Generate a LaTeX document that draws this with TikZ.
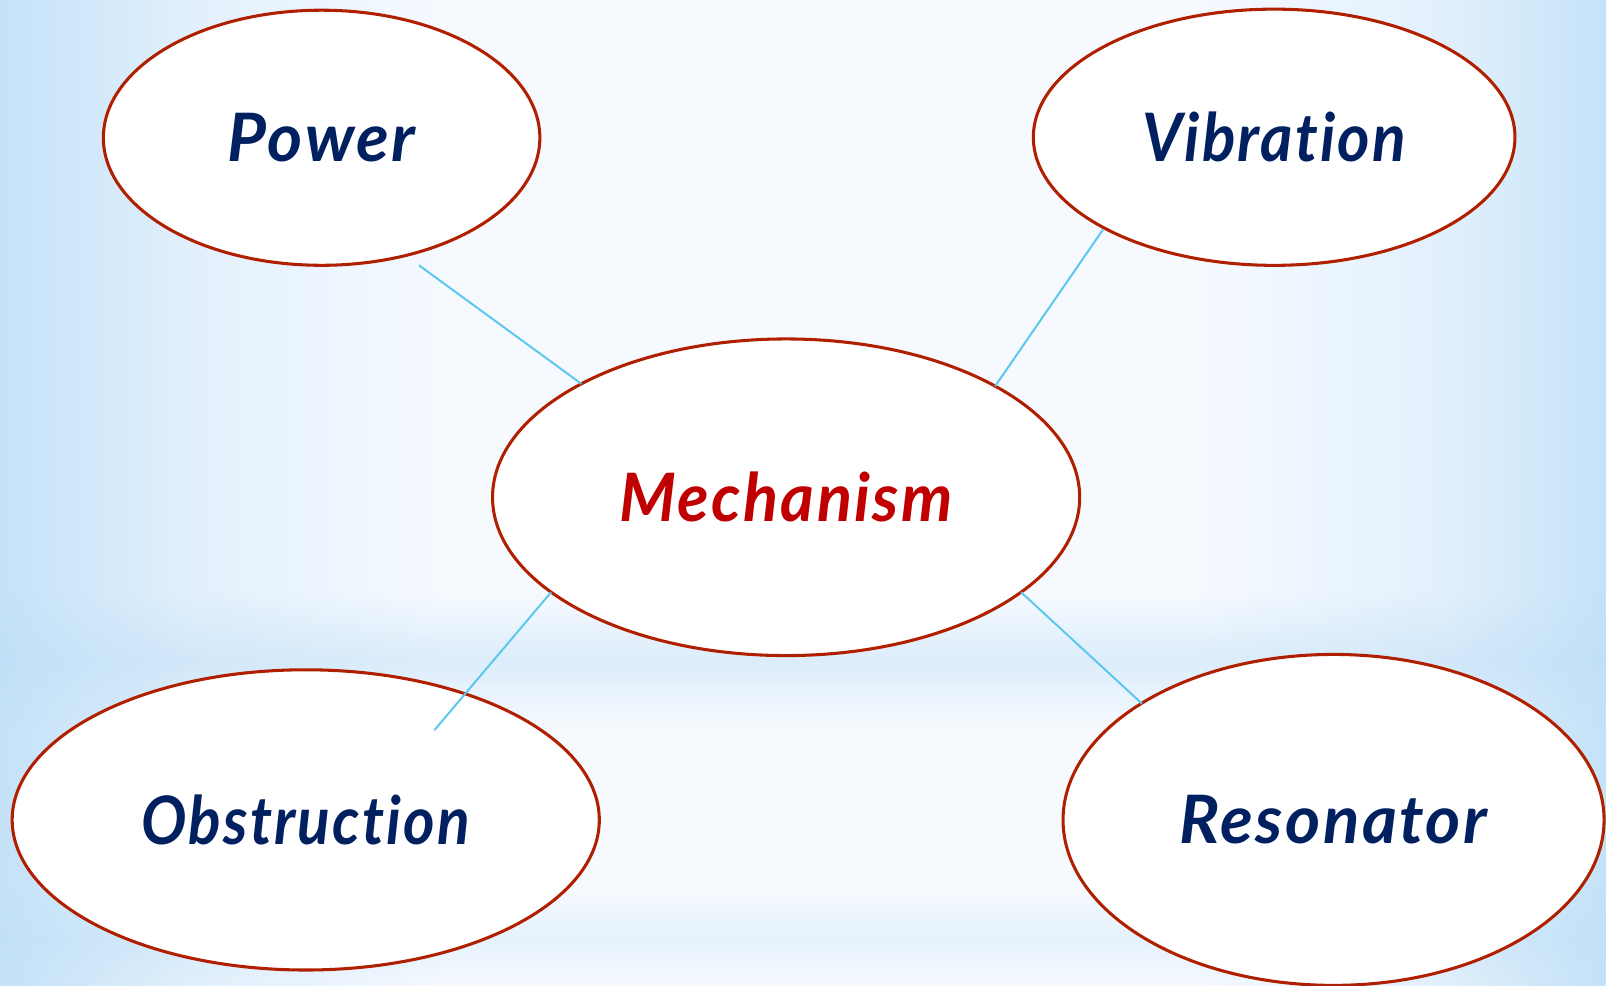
\documentclass[tikz,border=0pt]{standalone}
\usepackage{fontspec}
\usepackage{graphicx}
\setmainfont{Lato}[Ligatures=NoCommon]
\usetikzlibrary{shapes.geometric,fadings}
\definecolor{bgedge}{RGB}{196,226,248}
\definecolor{bgmid2}{RGB}{226,240,252}
\definecolor{bgmid}{RGB}{246,250,255}
\definecolor{bandblue}{RGB}{190,222,246}
\definecolor{ringred}{RGB}{176,32,0}
\definecolor{navy}{RGB}{0,32,96}
\definecolor{mechred}{RGB}{192,0,0}
\definecolor{linkblue}{RGB}{90,200,238}
\pgfdeclarehorizontalshading{bgh}{100bp}{color(0bp)=(bgedge); color(25bp)=(bgedge); color(31bp)=(bgmid2); color(39bp)=(bgmid); color(62bp)=(bgmid); color(70bp)=(bgmid2); color(75bp)=(bgedge); color(100bp)=(bgedge)}
\tikzfading[name=bandfade, top color=transparent!100, bottom color=transparent!100, middle color=transparent!0]
\tikzset{
  bubble/.style={ellipse, draw=ringred, line width=0.87pt, fill=white, inner sep=0pt, outer sep=0pt,
    font=\fontsize{19}{23}\selectfont\addfontfeatures{LetterSpace=3.6}\bfseries\itshape, text=navy},
  link/.style={draw=linkblue, line width=0.56pt},
}
\begin{document}
\begin{tikzpicture}[x=0.0102423cm,y=-0.0102423cm]
\useasboundingbox (0,0) rectangle (1568,961.7);
\shade[shading=bgh] (0,0) rectangle (1568,961.7);
\fill[bandblue, path fading=bandfade, fill opacity=0.45] (0,580) rectangle (1568,710);
\fill[bandblue, path fading=bandfade, fill opacity=0.3] (0,870) rectangle (1568,961.7);

\node[bubble, minimum width=4.363cm, minimum height=2.550cm] (power) at (314,134.5) {\scalebox{1.005}[1]{Power}};
\node[bubble, minimum width=4.814cm, minimum height=2.561cm] (vib) at (1244,134) {\scalebox{0.93}[1]{Vibration}};
\node[bubble, minimum width=5.869cm, minimum height=3.165cm, text=mechred] (mech) at (767.5,485.5) {\scalebox{0.97}[1]{Mechanism}};
\node[bubble, minimum width=5.869cm, minimum height=3.001cm] (obs) at (298.5,800.5) {\scalebox{0.903}[1]{Obstruction}};
\node[bubble, minimum width=5.408cm, minimum height=3.308cm] (res) at (1302,800.5) {\scalebox{1.007}[1]{Resonator}};

\coordinate (pE) at (409,259);
\coordinate (vE) at (1077,224);
\coordinate (oE) at (424,713);
\coordinate (rE) at (1115,687);

\draw[link] (pE) -- (mech.151.6);
\draw[link] (vE) -- (mech.28.4);
\draw[link] (oE) -- (mech.202.8);
\draw[link] (rE) -- (mech.-22.9);
\end{tikzpicture}
\end{document}
